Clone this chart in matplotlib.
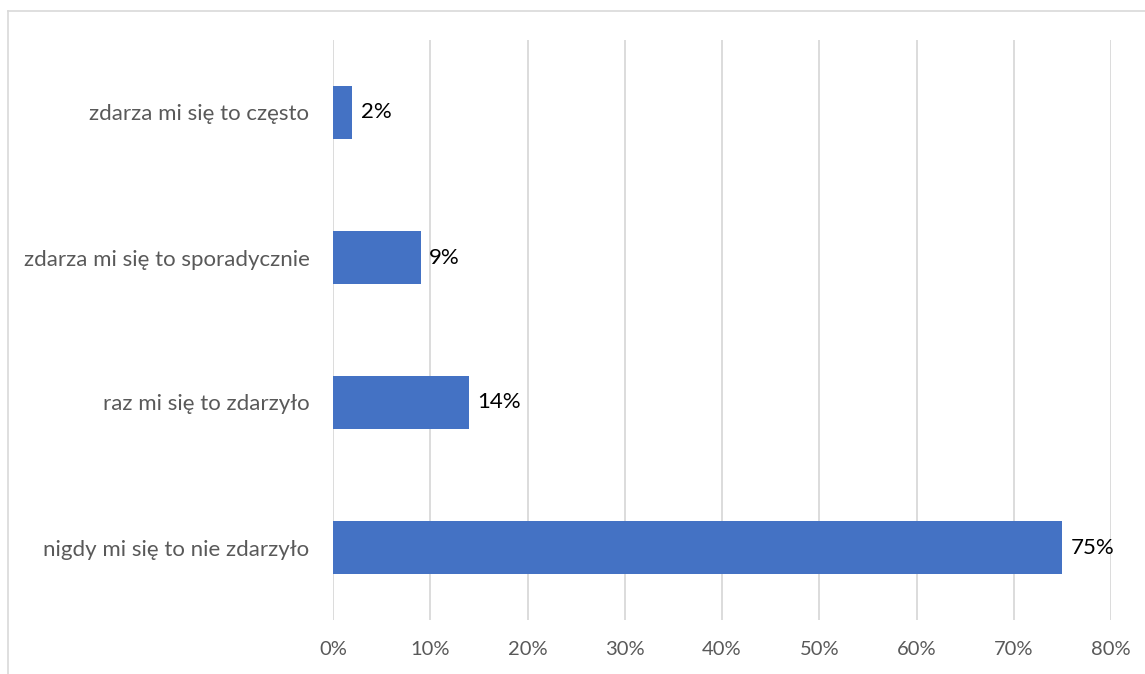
import matplotlib
matplotlib.use("Agg")
import matplotlib.pyplot as plt
from matplotlib.lines import Line2D

categories = [
    "nigdy mi się to nie zdarzyło",
    "raz mi się to zdarzyło",
    "zdarza mi się to sporadycznie",
    "zdarza mi się to często",
]
values = [75, 14, 9, 2]
tick_values = [0, 10, 20, 30, 40, 50, 60, 70, 80]

plt.rcParams["font.family"] = ["Lato", "DejaVu Sans"]

fig = plt.figure(figsize=(11.45, 6.74), dpi=100)
ax = fig.add_axes([333 / 1145, 1 - 620 / 674, (1111 - 333) / 1145, 580 / 674])

ax.barh(range(len(values)), values, height=0.36, color="#4472C4", zorder=3)
for i, v in enumerate(values):
    ax.annotate(f"{v}%", xy=(v, i), xytext=(6, 0), textcoords="offset points",
                va="center", ha="left", fontsize=16, color="black")

ax.set_xlim(0, 80)
ax.set_ylim(-0.5, len(values) - 0.5)
ax.set_xticks(tick_values)
ax.set_xticklabels([f"{t}%" for t in tick_values])
ax.set_yticks(range(len(categories)))
ax.set_yticklabels(categories)
ax.tick_params(axis="x", length=0, pad=15, labelsize=14.5, labelcolor="#595959")
ax.tick_params(axis="y", length=0, pad=17, labelsize=16, labelcolor="#595959")
ax.grid(True, axis="x", color="#d9d9d9", linewidth=1.3, zorder=0)
for s in ax.spines.values():
    s.set_visible(False)

# chart area border (only left and top visible in crop)
fig.add_artist(Line2D([8 / 1145, 8 / 1145], [0, 1 - 11 / 674], color="#d9d9d9", lw=1.2))
fig.add_artist(Line2D([8 / 1145, 1], [1 - 11 / 674, 1 - 11 / 674], color="#d9d9d9", lw=1.2))

plt.savefig("out.png", dpi=100)
